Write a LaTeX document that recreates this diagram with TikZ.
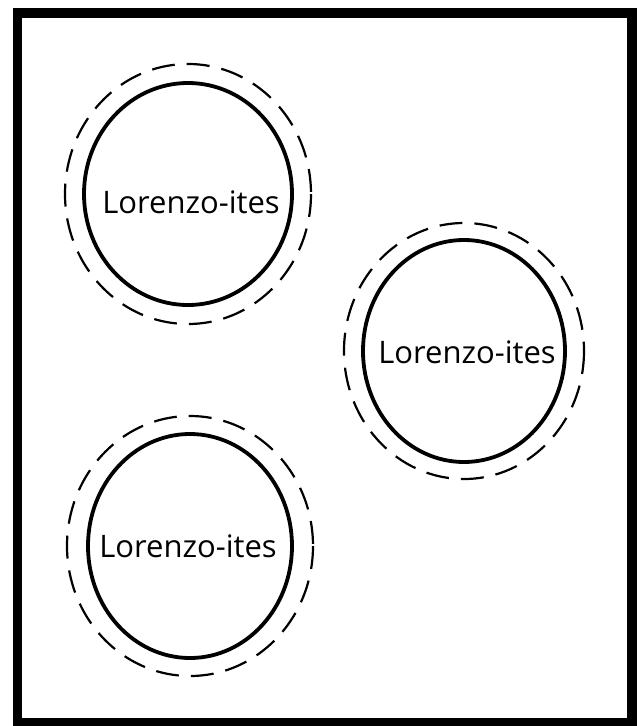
\documentclass[tikz,border=0pt]{standalone}
\usepackage{fontspec}
\setmainfont{Open Sans}
\begin{document}
\begin{tikzpicture}[x=1pt,y=-1pt,
  frame/.style={draw=black,line width=9.5pt},
  inner ring/.style={draw=black,line width=3.8pt},
  outer ring/.style={draw=black,line width=2.2pt,dash pattern=on 23pt off 12pt},
  label/.style={font=\fontsize{31}{37}\selectfont,anchor=base,inner sep=0pt}]
\useasboundingbox (0,0) rectangle (637,726);
\fill[white] (0,0) rectangle (637,726);
\draw[frame] (17.5,13) rectangle (632,723);
% group 1
\coordinate (c1) at (188,194);
\draw[inner ring] (c1) ellipse [x radius=104, y radius=111];
\draw[outer ring] (c1) ellipse [x radius=123, y radius=130];
\node[label] (t1) at (191,213) {Lorenzo-ites};
% group 2
\coordinate (c2) at (464,351);
\draw[inner ring] (c2) ellipse [x radius=101, y radius=111];
\draw[outer ring] (c2) ellipse [x radius=120, y radius=128];
\node[label] (t2) at (467,363) {Lorenzo-ites};
% group 3
\coordinate (c3) at (190,546);
\draw[inner ring] (c3) ellipse [x radius=102, y radius=112];
\draw[outer ring] (c3) ellipse [x radius=123, y radius=130];
\node[label] (t3) at (188,557) {Lorenzo-ites};
\end{tikzpicture}
\end{document}
